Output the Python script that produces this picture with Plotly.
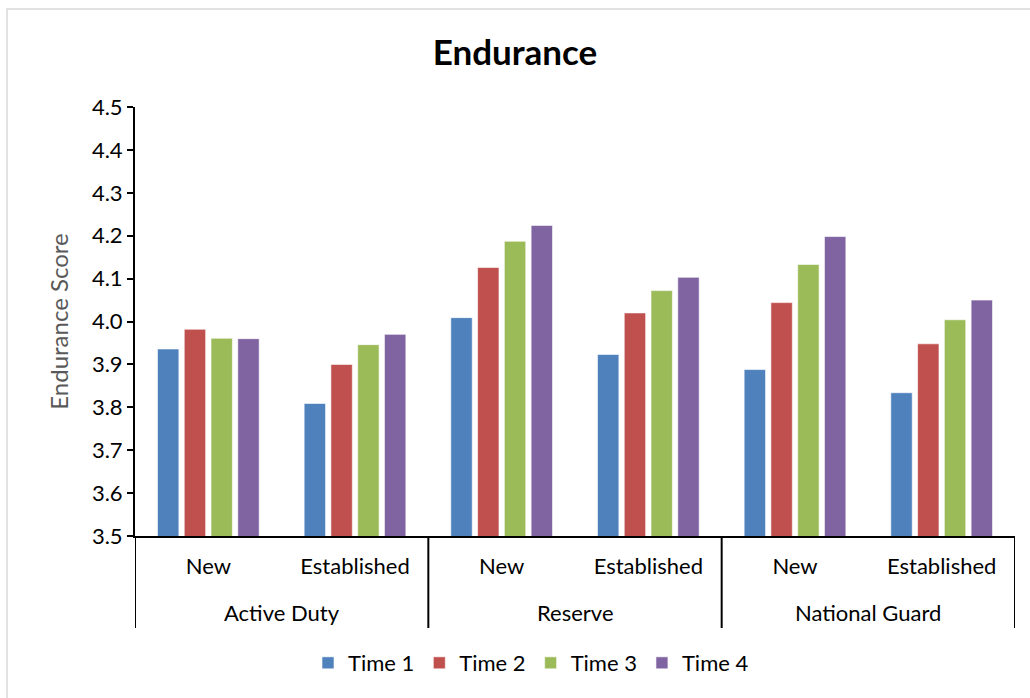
import plotly.graph_objects as go

# Components and member status (two-level category axis)
components = ["Active Duty", "Reserve", "National Guard"]
status = ["New", "Established", "New", "Established", "New", "Established"]

# Mean endurance score at each time point
time1 = [3.936, 3.809, 4.009, 3.923, 3.888, 3.834]
time2 = [3.982, 3.900, 4.126, 4.020, 4.044, 3.948]
time3 = [3.961, 3.946, 4.187, 4.072, 4.133, 4.004]
time4 = [3.960, 3.970, 4.224, 4.103, 4.198, 4.050]

series_names = ["Time 1", "Time 2", "Time 3", "Time 4"]
series_values = [time1, time2, time3, time4]
colors = ["#4F81BD", "#C0504D", "#9BBB59", "#8064A2"]

FONT = "Lato"

# Category slots along the x axis, two status slots per component
slots = list(range(len(status)))
per_group = len(status) // len(components)

fig = go.Figure()
for name, vals, col in zip(series_names, series_values, colors):
    fig.add_trace(go.Bar(
        x=slots,
        y=vals,
        name=name,
        marker=dict(color=col, line=dict(color="rgba(255,255,255,0.6)", width=1)),
    ))

W, H = 1030, 698
L, R, T, B = 135, 15, 107, 162
pw, ph = W - L - R, H - T - B


def px_x(px):
    return (px - L) / pw


def px_y(py):
    return (H - B - py) / ph


# Outer-level labels and separators below the axis
annotations = []
shapes = []
for gi, comp in enumerate(components):
    centre = gi * per_group + (per_group - 1) / 2
    annotations.append(dict(
        x=centre, xref="x", y=px_y(612), yref="paper",
        text=comp, showarrow=False, xanchor="center", yanchor="middle",
        font=dict(family=FONT, size=22, color="black"),
    ))
for k in range(len(components) + 1):
    edge = k * per_group - 0.5
    shapes.append(dict(
        type="line", xref="x", yref="paper",
        x0=edge, x1=edge, y0=0, y1=px_y(628),
        line=dict(color="black", width=2),
    ))

shapes.append(dict(
    type="rect", xref="paper", yref="paper",
    x0=px_x(7), x1=px_x(1040), y0=px_y(710), y1=px_y(9),
    line=dict(color="#D9D9D9", width=1.5), fillcolor="rgba(0,0,0,0)",
    layer="below",
))

fig.update_layout(
    width=W, height=H,
    margin=dict(l=L, r=R, t=T, b=B),
    paper_bgcolor="white",
    plot_bgcolor="white",
    font=dict(family=FONT, size=22, color="black"),
    barmode="group",
    bargap=0.27,
    bargroupgap=0.2,
    title=dict(text="<b>Endurance</b>", x=0.5, xanchor="center",
               y=1 - 53 / H, yanchor="middle",
               font=dict(family=FONT, size=35, color="black")),
    legend=dict(orientation="h", x=px_x(531), xanchor="center", y=px_y(663),
                yanchor="middle", font=dict(family=FONT, size=22),
                traceorder="normal"),
    xaxis=dict(
        range=[-0.5, len(status) - 0.5],
        tickmode="array", tickvals=slots, ticktext=status,
        showline=True, linecolor="black", linewidth=2,
        ticks="", showgrid=False, zeroline=False, ticklabelstandoff=10,
        tickfont=dict(family=FONT, size=22, color="black"),
    ),
    yaxis=dict(
        range=[3.5, 4.5], dtick=0.1, tickformat=".1f",
        showline=True, linecolor="black", linewidth=2,
        ticks="outside", ticklen=6, tickwidth=2, tickcolor="black",
        showgrid=False, zeroline=False,
        tickfont=dict(family=FONT, size=22, color="black"),
        title=dict(text="Endurance Score", standoff=16,
                   font=dict(family=FONT, size=24, color="#595959")),
    ),
    annotations=annotations,
    shapes=shapes,
)

fig.write_html("out.html")
